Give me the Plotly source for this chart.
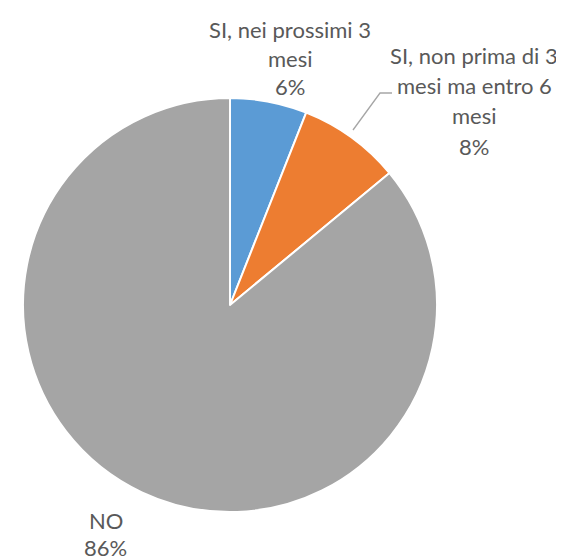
import plotly.graph_objects as go

labels = ["SI, nei prossimi 3 mesi", "SI, non prima di 3 mesi ma entro 6 mesi", "NO"]
values = [6, 8, 86]
colors = ["#5B9BD5", "#ED7D31", "#A5A5A5"]
label_lines = [
    ["SI, nei prossimi 3", "mesi", "6%"],
    ["SI, non prima di 3", "mesi ma entro 6", "mesi", "8%"],
    ["NO", "86%"],
]

OFF = 8  # page body margin
W, H = 564 - OFF, 560 - OFF


def px(x):
    return (x - OFF) / W


def py(y):
    return 1 - (y - OFF) / H


cx, cy, r = 230, 305, 207

fig = go.Figure(go.Pie(
    labels=labels, values=values, sort=False, direction="clockwise", rotation=0,
    marker=dict(colors=colors, line=dict(color="white", width=2)),
    textinfo="none", hoverinfo="label+percent", showlegend=False,
    domain=dict(x=[px(cx - r), px(cx + r)], y=[py(cy + r), py(cy - r)]),
))

label_pos = [(290, 30, 28.5), (474, 55, 30.5), (106, 520, 27.5)]
font = dict(family="Lato", size=22, color="#595959")
anns = []
for lines, (x, y0, dy) in zip(label_lines, label_pos):
    for i, t in enumerate(lines):
        anns.append(dict(x=px(x), y=py(y0 + i * dy), xref="paper", yref="paper",
                         text=t, showarrow=False, font=font, xanchor="center", yanchor="middle"))

fig.update_layout(
    width=W, height=H, margin=dict(l=0, r=0, t=0, b=0),
    paper_bgcolor="white", plot_bgcolor="white", annotations=anns,
    shapes=[dict(type="path", xref="paper", yref="paper",
                 path=f"M {px(353)} {py(130)} L {px(380)} {py(93)} L {px(392)} {py(93)}",
                 line=dict(color="#A6A6A6", width=1.3))],
)
fig.write_html("out.html")
